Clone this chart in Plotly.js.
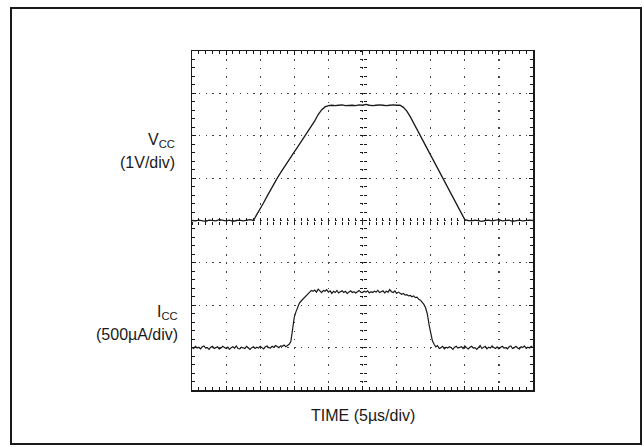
<!DOCTYPE html>
<html>
<head>
<meta charset="utf-8">
<script src="https://cdn.plot.ly/plotly-3.0.1.min.js"></script>
<style>
html,body{margin:0;padding:0;background:#fff;}
#chart{width:644px;height:447px;}
</style>
</head>
<body>
<div id="chart"></div>
<script>
// Screen positions in oscilloscope divisions (0 = bottom of screen, 8 = top)
// VCC trace: 1V/div, sampled every 0.5 us
const vccStepUs = 0.5;
const vccDiv = [
  4.00,3.99,4.01,4.00,3.98,4.01,4.00,3.99,4.02,4.00,3.99,4.01,3.98,4.00,4.01,3.99,4.00,4.02,4.00,
  4.13,4.27,4.42,4.57,4.72,4.86,5.00,5.13,5.26,5.38,5.50,5.62,5.74,5.86,5.97,6.08,6.20,6.35,6.50,6.61,6.68,6.71,
  6.72,6.71,6.72,6.73,6.71,6.72,6.72,6.71,6.73,6.72,6.74,6.72,6.71,6.72,6.73,6.72,6.71,6.72,6.73,6.72,6.72,
  6.67,6.58,6.45,6.30,6.14,5.98,5.83,5.68,5.53,5.38,5.23,5.08,4.93,4.78,4.63,4.48,4.33,4.17,4.02,
  4.00,3.99,4.01,4.00,3.98,4.00,4.01,3.99,4.00,4.02,3.99,4.00,4.01,3.98,4.00,4.01,3.99,4.00,4.01,4.00
];
// ICC trace: 500uA/div, sampled every 0.25 us
const iccStepUs = 0.25;
const iccDiv = [
  1.00,0.98,1.03,0.99,1.01,0.97,1.02,1.04,0.99,1.00,
  0.96,1.01,1.03,0.98,1.00,1.02,0.97,0.99,1.03,1.00,
  0.98,1.01,0.96,1.00,1.02,0.99,1.04,0.98,0.97,1.01,
  1.00,0.98,1.03,0.99,0.96,1.00,1.02,0.98,1.01,0.99,
  1.03,1.00,0.97,1.02,1.04,1.00,0.99,1.03,1.01,1.05,
  1.02,1.00,1.04,1.03,1.06,1.02,1.05,1.08,
  1.15,1.45,1.72,1.85,1.95,2.05,2.10,2.14,2.20,2.24,2.28,2.31,2.35,
  2.33,2.36,2.31,2.38,2.34,2.30,2.35,2.33,2.37,2.31,
  2.34,2.28,2.33,2.30,2.35,2.29,2.32,2.34,2.30,2.33,
  2.28,2.31,2.34,2.30,2.32,2.29,2.33,2.35,2.31,2.30,
  2.33,2.31,2.34,2.29,2.32,2.30,2.33,2.31,2.35,2.30,
  2.32,2.34,2.29,2.33,2.31,2.37,2.32,2.30,2.34,2.28,
  2.31,2.29,2.26,2.28,2.24,
  2.25,2.22,2.23,2.20,2.22,2.18,2.19,2.14,2.12,2.08,2.02,1.94,1.80,1.55,1.32,1.16,1.08,1.02,
  1.05,0.98,1.00,1.03,0.97,1.01,0.99,1.02,1.00,0.96,
  1.01,1.03,0.99,1.00,1.02,0.98,1.04,1.00,0.97,1.01,
  1.03,0.99,1.00,0.96,1.02,1.05,0.98,1.00,1.03,0.97,
  1.01,0.99,1.04,1.00,0.98,1.02,0.97,1.01,1.03,0.99,
  1.00,0.97,1.02,1.04,0.98,1.00,1.03,0.99,0.97,1.02,
  1.00,1.04,0.98,1.01,0.99,1.03,1.00
];
const vccTimeUs = vccDiv.map((_, i) => i * vccStepUs);
const iccTimeUs = iccDiv.map((_, i) => i * iccStepUs);

const vccLabel = ['V<sub>CC</sub>', '(1V/div)'];
const iccLabel = ['I<sub>CC</sub>', '(500\u00b5A/div)'];
const timeLabel = 'TIME (5\u00b5s/div)';

const FONT = '"Liberation Sans", Arial, sans-serif';
const INK = '#1a1a1a';
const FS = 16;

const traces = [
  {x: vccTimeUs, y: vccDiv, mode: 'lines', name: 'VCC', line: {color: INK, width: 1.3}, hoverinfo: 'skip'},
  {x: iccTimeUs, y: iccDiv, mode: 'lines', name: 'ICC', line: {color: INK, width: 1.2}, hoverinfo: 'skip'},
  {x: [0], y: [-1], xaxis: 'x2', yaxis: 'y2', mode: 'markers', marker: {opacity: 0}, showlegend: false, hoverinfo: 'skip'},
  {x: [0], y: [-1], xaxis: 'x3', yaxis: 'y3', mode: 'markers', marker: {opacity: 0}, showlegend: false, hoverinfo: 'skip'}
];

const frameAxis = {
  showline: true, linecolor: INK, linewidth: 1.5, mirror: 'ticks',
  ticks: 'inside', ticklen: 4, tickcolor: INK, tickwidth: 1,
  showticklabels: false, zeroline: false, fixedrange: true,
  showgrid: true, gridcolor: '#444', gridwidth: 1.2,
  minor: {ticks: 'inside', ticklen: 3, tickcolor: INK, tickwidth: 1, showgrid: false}
};

const centerAxis = (overlay, ticks, range, dtick) => ({
  overlaying: overlay, anchor: 'free', position: 0.5, range: range,
  showline: false, showgrid: false, zeroline: false, showticklabels: false,
  ticks: ticks, ticklen: 3, tickcolor: INK, tickwidth: 1, dtick: dtick, tick0: 0, fixedrange: true
});

const layout = {
  width: 644, height: 447,
  margin: {l: 192, r: 111, t: 51, b: 57, pad: 0},
  paper_bgcolor: '#fff', plot_bgcolor: '#fff',
  showlegend: false,
  font: {family: FONT, color: INK, size: FS},
  xaxis: Object.assign({}, frameAxis, {range: [0, 50], dtick: 5, tick0: 0, griddash: '1.3px,7.17px',
    minor: Object.assign({}, frameAxis.minor, {dtick: 1})}),
  yaxis: Object.assign({}, frameAxis, {range: [0, 8], dtick: 1, tick0: 0, griddash: '1.3px,5.52px',
    minor: Object.assign({}, frameAxis.minor, {dtick: 0.2})}),
  xaxis2: centerAxis('x', 'inside', [0, 50], 1),
  yaxis2: centerAxis('y', 'inside', [0, 8], 0.2),
  xaxis3: centerAxis('x', 'outside', [0, 50], 1),
  yaxis3: centerAxis('y', 'outside', [0, 8], 0.2),
  annotations: [
    {text: vccLabel[0], xref: 'paper', yref: 'paper', x: -0.044, y: 0.735, xanchor: 'right', yanchor: 'middle', showarrow: false, font: {size: FS}},
    {text: vccLabel[1], xref: 'paper', yref: 'paper', x: -0.044, y: 0.672, xanchor: 'right', yanchor: 'middle', showarrow: false, font: {size: FS}},
    {text: iccLabel[0], xref: 'paper', yref: 'paper', x: -0.035, y: 0.229, xanchor: 'right', yanchor: 'middle', showarrow: false, font: {size: FS}},
    {text: iccLabel[1], xref: 'paper', yref: 'paper', x: -0.035, y: 0.165, xanchor: 'right', yanchor: 'middle', showarrow: false, font: {size: FS}},
    {text: timeLabel, xref: 'paper', yref: 'paper', x: 0.5, y: -0.074, xanchor: 'center', yanchor: 'middle', showarrow: false, font: {size: FS}}
  ],
  shapes: [
    {type: 'rect', xref: 'paper', yref: 'paper', layer: 'below',
     x0: (11 - 192) / 341, x1: (641 - 192) / 341, y0: (390 - 444) / 339, y1: (390 - 8) / 339,
     line: {color: INK, width: 2}, fillcolor: 'rgba(0,0,0,0)'}
  ]
};

Plotly.newPlot('chart', traces, layout, {staticPlot: true, displayModeBar: false});
</script>
</body>
</html>
